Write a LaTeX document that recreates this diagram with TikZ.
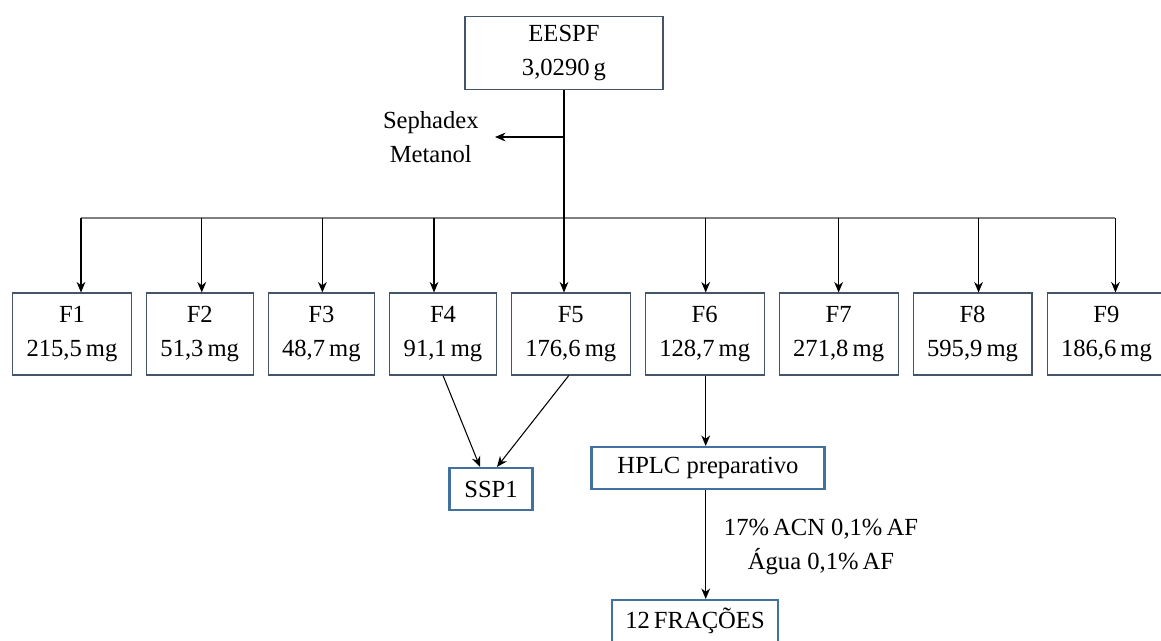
\documentclass[tikz,border=0pt]{standalone}
\usepackage{fontspec}
\setmainfont{Liberation Serif}
\usetikzlibrary{arrows.meta, positioning, calc}
\definecolor{slateline}{HTML}{44546A}
\definecolor{steelline}{HTML}{41719C}
\tikzset{
  fbox/.style={rectangle, draw=slateline, line width=0.6pt, minimum height=1.64cm,
               inner xsep=0.28cm, align=center, font=\fontsize{14}{19}\selectfont},
  rbox/.style={rectangle, draw=steelline, line width=1.2pt, minimum height=0.84cm,
               align=center, font=\fontsize{14}{19}\selectfont},
  lbl/.style={align=center, inner sep=0pt, font=\fontsize{14}{19}\selectfont},
  arr/.style={-{Stealth[length=6pt, width=5pt]}, line width=0.6pt, #1},
  arr/.default=black,
  barline/.style={draw=gray, line width=0.9pt},
}
\begin{document}
\begin{tikzpicture}[x=0.02cm, y=-0.02cm]
  \useasboundingbox (0,0) rectangle (1161,640);

  \node[fbox, minimum width=3.96cm, minimum height=1.46cm] (eespf) at (564,53) {EESPF\\3,0290\,g};

  \node[fbox] (f1) at (72,334) {F1\\215,5\,mg};
  \node[fbox, right=0.28cm of f1] (f2) {F2\\51,3\,mg};
  \node[fbox, right=0.28cm of f2] (f3) {F3\\48,7\,mg};
  \node[fbox, right=0.28cm of f3] (f4) {F4\\91,1\,mg};
  \node[fbox, right=0.28cm of f4] (f5) {F5\\176,6\,mg};
  \node[fbox, right=0.28cm of f5] (f6) {F6\\128,7\,mg};
  \node[fbox, right=0.28cm of f6] (f7) {F7\\271,8\,mg};
  \node[fbox, right=0.28cm of f7] (f8) {F8\\595,9\,mg};
  \node[fbox, right=0.28cm of f8] (f9) {F9\\186,6\,mg};

  \node[rbox, minimum width=1.66cm] (ssp1) at (491,489) {SSP1};
  \node[rbox, minimum width=4.66cm] (hplc) at (708,468) {HPLC preparativo};
  \node[rbox, minimum width=3.32cm] (fracoes) at (695,621) {12\,FRAÇÕES};

  \coordinate (bary) at (0,218);
  \coordinate (sepha) at (495,137);
  \node[lbl, left=0.32cm of sepha] (sephadex) {Sephadex\\Metanol};
  \node[lbl] (eluente) at (821,547) {17\%\,ACN 0,1\%\,AF\\Água 0,1\%\,AF};

  \foreach \f/\dx in {f1/9, f2/2, f3/1, f4/-9, f6/1, f7/0, f8/6, f9/9}
    \coordinate (t-\f) at ($(\f.north)+(\dx,0)$);
  \draw[barline] (t-f1 |- bary) -- (t-f9 |- bary);
  \foreach \f in {f1, f2, f3, f4, f6, f7, f8, f9}
    \draw[arr] (t-\f |- bary) -- (t-\f);

  \draw[arr] (eespf) -- (eespf |- f5.north);
  \draw[arr] (eespf |- sepha) -- (sepha);

  \draw[arr] (f4.south) -- ($(ssp1.north)+(-11,0)$);
  \draw[arr] ($(f5.south)+(-2,0)$) -- ($(ssp1.north)+(6,0)$);
  \draw[arr] (t-f6 |- f6.south) -- (t-f6 |- hplc.north);
  \draw[arr] (t-f6 |- hplc.south) -- (t-f6 |- fracoes.north);
\end{tikzpicture}
\end{document}
